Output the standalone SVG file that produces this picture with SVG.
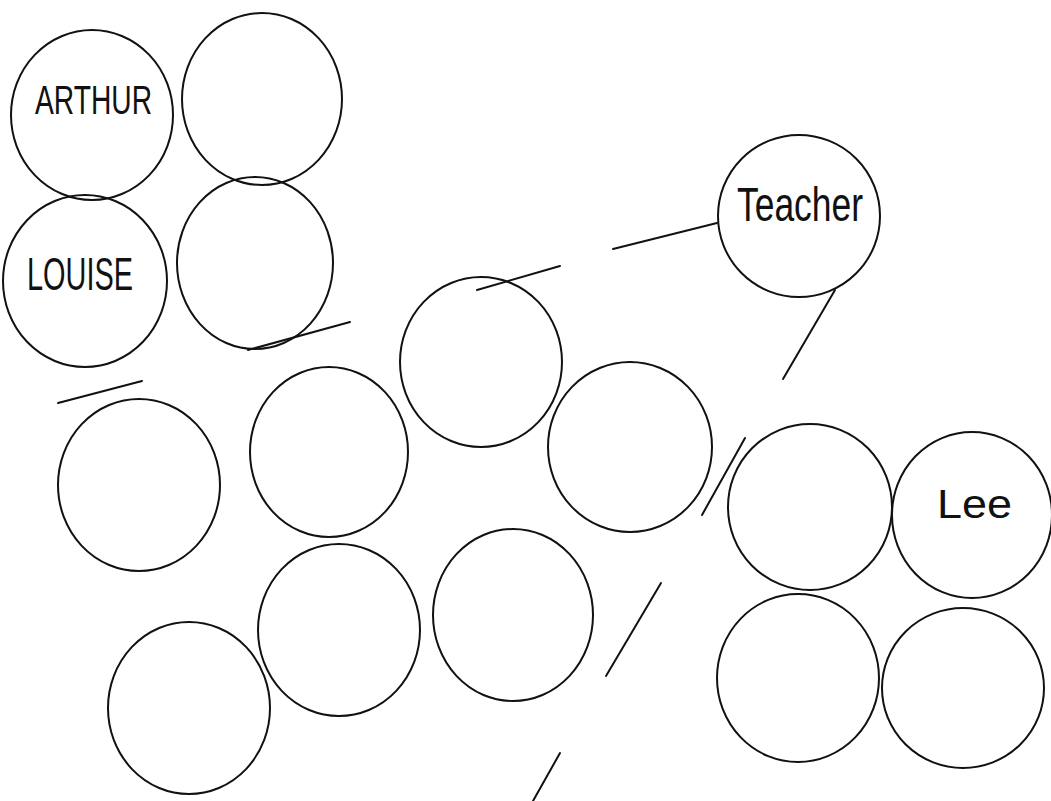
<svg xmlns="http://www.w3.org/2000/svg" width="1051" height="801" viewBox="0 0 1051 801">
<style>
.c{fill:none;stroke:#111;stroke-width:2}
.l{stroke:#111;stroke-width:2;stroke-linecap:round}
.t{font-family:"Liberation Sans",Arial,sans-serif;fill:#111}
</style>
<rect width="1051" height="801" fill="#fff"/>
<g id="connectors">
<line class="l" x1="58" y1="403" x2="142" y2="381"/>
<line class="l" x1="248" y1="350" x2="350" y2="322"/>
<line class="l" x1="477" y1="290" x2="560" y2="266"/>
<line class="l" x1="613" y1="249" x2="717" y2="223"/>
<line class="l" x1="835" y1="290" x2="783" y2="379"/>
<line class="l" x1="745" y1="438" x2="702" y2="515"/>
<line class="l" x1="661" y1="583" x2="606" y2="676"/>
<line class="l" x1="560" y1="753" x2="533" y2="801"/>
</g>
<g id="arthur"><ellipse class="c" cx="92" cy="115" rx="81" ry="85"/><text class="t" x="35" y="114" font-size="40" textLength="117" lengthAdjust="spacingAndGlyphs">ARTHUR</text></g>
<g id="n2"><ellipse class="c" cx="262" cy="99" rx="80" ry="86"/></g>
<g id="louise"><ellipse class="c" cx="85" cy="281" rx="82" ry="86"/><text class="t" x="27" y="290" font-size="46" textLength="106" lengthAdjust="spacingAndGlyphs">LOUISE</text></g>
<g id="n4"><ellipse class="c" cx="255" cy="263" rx="78" ry="86"/></g>
<g id="teacher"><ellipse class="c" cx="799" cy="216" rx="81" ry="81"/><text class="t" x="737" y="221" font-size="48" textLength="126" lengthAdjust="spacingAndGlyphs">Teacher</text></g>
<g id="n6"><ellipse class="c" cx="481" cy="362" rx="81" ry="85"/></g>
<g id="n7"><ellipse class="c" cx="139" cy="485" rx="81" ry="86"/></g>
<g id="n8"><ellipse class="c" cx="329" cy="452" rx="79" ry="85"/></g>
<g id="n9"><ellipse class="c" cx="630" cy="447" rx="82" ry="85"/></g>
<g id="n10"><ellipse class="c" cx="810" cy="507" rx="82" ry="83"/></g>
<g id="lee"><ellipse class="c" cx="972" cy="515" rx="80" ry="83"/><text class="t" x="937" y="518" font-size="40" textLength="75" lengthAdjust="spacingAndGlyphs">Lee</text></g>
<g id="n12"><ellipse class="c" cx="339" cy="630" rx="81" ry="86"/></g>
<g id="n13"><ellipse class="c" cx="513" cy="615" rx="80" ry="86"/></g>
<g id="n14"><ellipse class="c" cx="189" cy="708" rx="81" ry="86"/></g>
<g id="n15"><ellipse class="c" cx="798" cy="678" rx="81" ry="84"/></g>
<g id="n16"><ellipse class="c" cx="963" cy="688" rx="81" ry="80"/></g>
</svg>
